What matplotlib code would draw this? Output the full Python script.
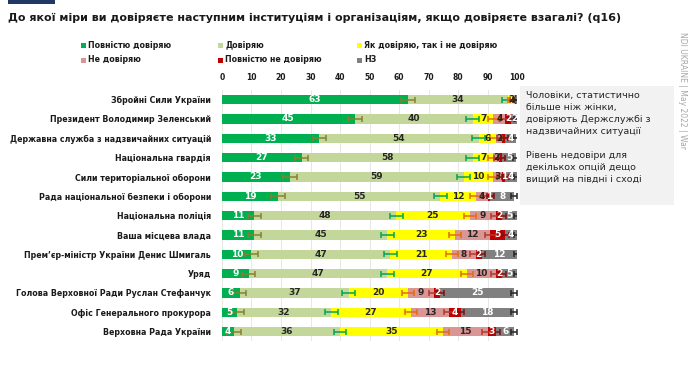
import numpy as np
import matplotlib
matplotlib.use("Agg")
import matplotlib.pyplot as plt
from matplotlib.patches import Rectangle

plt.rcParams['font.family'] = ['DejaVu Sans']

W, H = 690, 373

institutions = [
    "Збройні Сили України",
    "Президент Володимир Зеленський",
    "Державна служба з надзвичайних ситуацій",
    "Національна гвардія",
    "Сили територіальної оборони",
    "Рада національної безпеки і оборони",
    "Національна поліція",
    "Ваша місцева влада",
    "Прем\u2019єр-міністр України Денис Шмигаль",
    "Уряд",
    "Голова Верховної Ради Руслан Стефанчук",
    "Офіс Генерального прокурора",
    "Верховна Рада України",
]

fully_trust = [63, 45, 33, 27, 23, 19, 11, 11, 10, 9, 6, 5, 4]
trust = [34, 40, 54, 58, 59, 55, 48, 45, 47, 47, 37, 32, 36]
neutral = [2, 7, 6, 7, 10, 12, 25, 23, 21, 27, 20, 27, 35]
distrust = [0.4, 4, 2, 2, 3, 4, 9, 12, 8, 10, 9, 13, 15]
fully_distrust = [0.4, 2, 0.8, 0.8, 1, 1, 2, 5, 2, 2, 2, 4, 3]
dont_know = [0.2, 2, 4, 5, 4, 8, 5, 4, 12, 5, 25, 18, 6]

answers = ["Повністю довіряю", "Довіряю", "Як довіряю, так і не довіряю",
           "Не довіряю", "Повністю не довіряю", "НЗ"]
colors = ["#00B050", "#C4D79B", "#FFFF00", "#DA9694", "#C00000", "#808080"]
label_colors = ["white", "#262626", "#262626", "#262626", "white", "white"]
err_colors = ["#8A7F2E", "#00A651", "#E46C0A", "#B03A2E", "#7B1010", "#262626"]
moe = [2.3, 2.2, 2.0, 1.8, 1.2, 1.0]

series = [fully_trust, trust, neutral, distrust, fully_distrust, dont_know]

note_text = ("Чоловіки, статистично\nбільше ніж жінки,\nдовіряють Держслужбі з\n"
             "надзвичайних ситуації\n\nРівень недовіри для\nдекількох опцій дещо\n"
             "вищий на півдні і сході")


def fx(px):
    return px / W


def fy(py):
    return 1 - py / H


fig = plt.figure(figsize=(W / 100, H / 100), dpi=100)
fig.patch.set_facecolor("white")

# navy bar + title
fig.add_artist(Rectangle((fx(8), fy(4)), fx(47), 4 / H, transform=fig.transFigure,
                         facecolor="#1F3864", edgecolor="none"))
fig.text(fx(8), fy(18), "До якої міри ви довіряєте наступним інституціям і організаціям, "
         "якщо довіряєте взагалі? (q16)", fontsize=8, fontweight="bold",
         color="#1a1a1a", va="center", ha="left")

# legend
leg_x = [81, 218, 357]
leg_y = [45, 60]
for i, (name, c) in enumerate(zip(answers, colors)):
    x0 = leg_x[i % 3]
    y0 = leg_y[i // 3]
    fig.add_artist(Rectangle((fx(x0), fy(y0 + 2.5)), 5 / W, 5 / H,
                             transform=fig.transFigure, facecolor=c, edgecolor="none"))
    fig.text(fx(x0 + 7), fy(y0), name, fontsize=5.7, fontweight="bold",
             color="#1a1a1a", va="center", ha="left")

ax = fig.add_axes([fx(222), fy(341.3), 295 / W, 251.3 / H])
y = np.arange(len(institutions))
left = np.zeros(len(institutions))
for k, vals in enumerate(series):
    vals = np.array(vals, dtype=float)
    ax.barh(y, vals, left=left, height=0.48, color=colors[k], zorder=2)
    for yi, (l, v) in enumerate(zip(left, vals)):
        if v >= 1:
            ax.text(l + v / 2, yi, f"{v:.0f}", ha="center", va="center",
                    fontsize=6.5, fontweight="bold", color=label_colors[k], zorder=4)
    left = left + vals
    ax.errorbar(left, y, xerr=moe[k], fmt="none", ecolor=err_colors[k],
                elinewidth=1.1, capsize=2.4, capthick=1.1, zorder=3)

ax.set_xlim(0, 100)
ax.set_ylim(len(institutions) - 0.5, -0.5)
ax.set_xticks(np.arange(0, 101, 10))
ax.xaxis.tick_top()
ax.tick_params(axis="x", length=0, pad=6, labelsize=5.5, labelcolor="#1a1a1a")
for t in ax.get_xticklabels():
    t.set_fontweight("bold")
ax.set_yticks(y)
ax.set_yticklabels(institutions, fontsize=5.7, fontweight="bold", color="#1a1a1a")
ax.tick_params(axis="y", length=0, pad=8)
ax.grid(axis="x", color="#E3E3E3", linewidth=0.6, zorder=0)
ax.set_axisbelow(True)
for s in ax.spines.values():
    s.set_visible(False)

# note box
fig.add_artist(Rectangle((fx(520), fy(205)), 154 / W, 119 / H, transform=fig.transFigure,
                         facecolor="#F2F2F2", edgecolor="none"))
fig.text(fx(526), fy(91), note_text, fontsize=6.8, color="#262626", va="top", ha="left",
         linespacing=1.42)

fig.text(fx(682), fy(32), "NDI UKRAINE | May 2022 | War", rotation=270, fontsize=5.5,
         color="#A6A6A6", va="top", ha="center")

fig.savefig("out.png", dpi=100)
